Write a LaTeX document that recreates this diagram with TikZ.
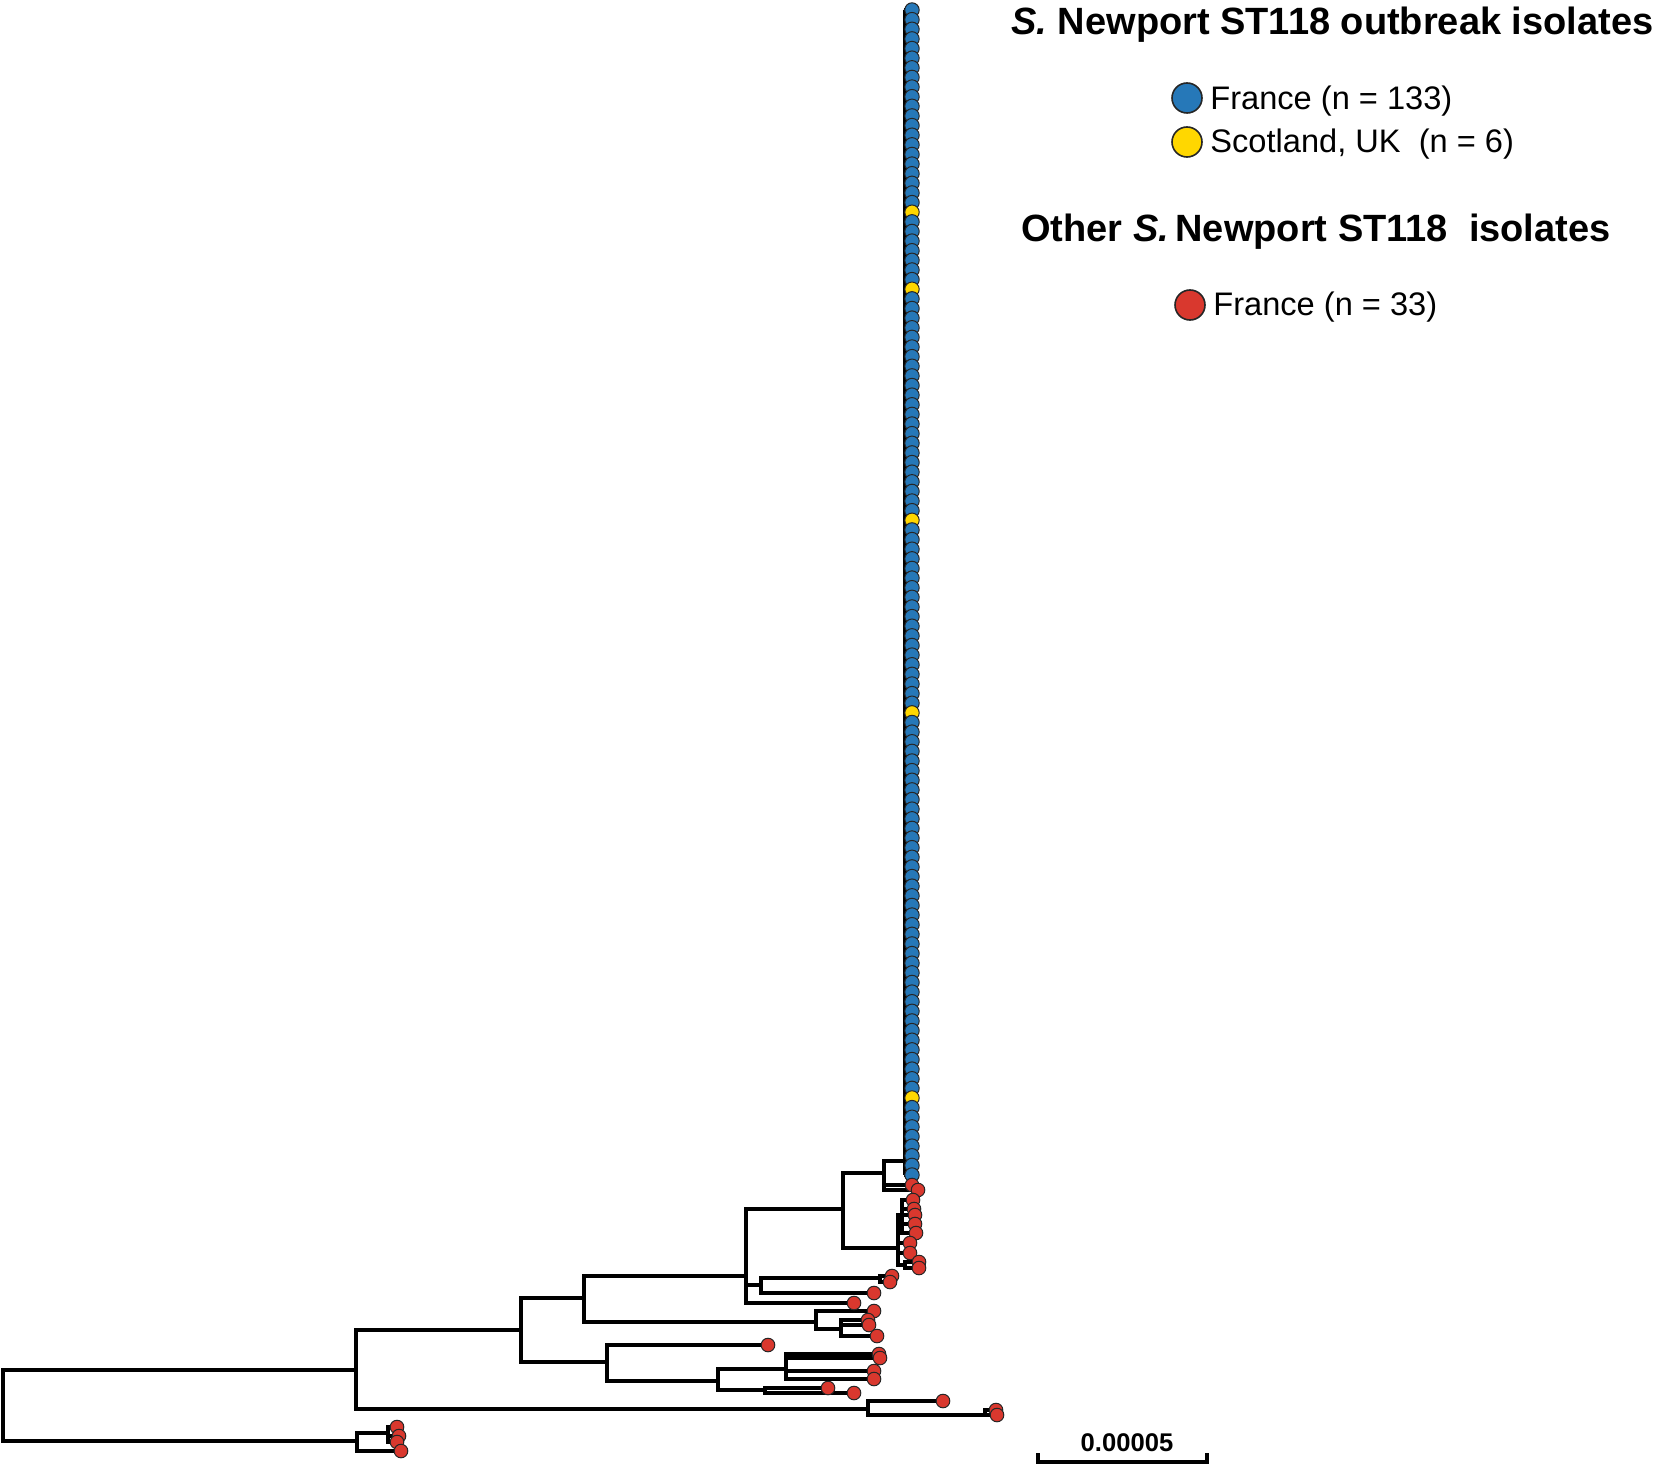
\documentclass[tikz,border=0pt]{standalone}
\usepackage{fontspec}
\setmainfont{Liberation Sans}
\usetikzlibrary{backgrounds}

\definecolor{franceblue}{RGB}{38,120,184}
\definecolor{scotyellow}{RGB}{255,215,0}
\definecolor{otherred}{RGB}{217,56,46}

\tikzset{
	branch/.style={line width=1.7pt},
	tip/.style={circle, draw=black!85, line width=0.5pt, inner sep=0pt, minimum size=6.8pt, fill=otherred},
	coldot/.style={tip, minimum size=7.2pt},
	legdot/.style={circle, draw=black!85, line width=0.8pt, inner sep=0pt, minimum size=15pt},
	legtitle/.style={anchor=base west, inner sep=0pt, font=\fontsize{19}{22}\selectfont\bfseries},
	legtext/.style={anchor=base west, inner sep=0pt, font=\fontsize{16.3}{19}\selectfont},
}

\begin{document}
\begin{tikzpicture}[x=0.5pt, y=-0.5pt]
		\useasboundingbox (0,0) rectangle (1654,1466);
		% inner nodes of the tree
		\coordinate (root) at (3,1405);
		\coordinate (nA) at (356,1370);
		\coordinate (nL) at (357,1441);
		\coordinate (nB) at (521,1330);
		\coordinate (nK) at (868,1409);
		\coordinate (nC) at (584,1298);
		\coordinate (nH) at (607,1362);
		\coordinate (nD) at (746,1276);
		\coordinate (nG) at (816,1322);
		\coordinate (nE) at (843,1209);
		\coordinate (nDb) at (761,1285);
		\coordinate (nDc) at (880,1278);
		\coordinate (nF) at (884,1173);
		\coordinate (nEb) at (898,1248);
		\coordinate (nEc) at (902,1215);
		\coordinate (nEd) at (905,1265);
		\coordinate (ncol) at (905,1161);
		\coordinate (nGb) at (841,1329);
		\coordinate (nHb) at (718,1381);
		\coordinate (nHc) at (786,1369);
		\coordinate (nHd) at (765,1390);
		\coordinate (nKb) at (985,1415);
		\coordinate (nLb) at (388,1433);
		% outbreak isolates
		\foreach \i in {0,...,121}{
			\pgfmathtruncatemacro\scot{(\i==21)||(\i==29)||(\i==53)||(\i==73)||(\i==113)}
			\ifnum\scot=1 \def\dotcol{scotyellow}\else\def\dotcol{franceblue}\fi
			\node[coldot, fill=\dotcol] (b\i) at (912,{10+9.628*\i}) {};
		}
		% other isolates
		\foreach \n/\x/\y in {1/912/1185, 2/918/1190, 3/913/1200, 4/914/1209, 5/915/1215,
			6/915/1224, 7/916/1233, 8/910/1243, 9/910/1253, 10/919/1262, 11/919/1268,
			12/892/1276, 13/890/1282, 14/874/1293, 15/854/1303, 16/874/1311, 17/868/1320,
			18/869/1325, 19/877/1336, 20/768/1345, 21/879/1354, 22/880/1358, 23/874/1371,
			24/874/1379, 25/828/1388, 26/854/1393, 27/943/1401, 28/996/1410, 29/997/1415,
			30/397/1427, 31/399/1436, 32/397/1442, 33/401/1451}
			\node[tip] (r\n) at (\x,\y) {};
		% branches
		\begin{scope}[on background layer]
			\foreach \p/\c in {root/nA, root/nL, nA/nB, nA/nK, nB/nC, nB/nH, nC/nD, nC/nG,
				nD/nE, nD/nDb, nD/r15, nE/nF, nE/nEb, nF/ncol, nF/r1, nF/r2,
				nEb/nEc, nEb/r8, nEb/r9, nEb/nEd, nEc/r3, nEc/r4, nEc/r5, nEc/r6, nEc/r7,
				nEd/r10, nEd/r11, nDb/nDc, nDb/r14, nDc/r12, nDc/r13,
				nG/r16, nG/nGb, nGb/r17, nGb/r18, nGb/r19,
				nH/r20, nH/nHb, nHb/nHc, nHb/nHd, nHc/r21, nHc/r22, nHc/r23, nHc/r24,
				nHd/r25, nHd/r26, nK/r27, nK/nKb, nKb/r28, nKb/r29,
				nL/nLb, nL/r33, nLb/r30, nLb/r31, nLb/r32}
				\draw[branch] (\p) |- (\c);
			\foreach \i in {0,...,121}
				\draw[branch] (ncol) |- (b\i);
		\end{scope}
		% legend
		\node[legtitle] (title1) at (1011,35) {\textit{S.} Newport ST118 outbreak isolates};
		\node[legdot, fill=franceblue] (kfr) at (1187,98) {};
		\node[legtext] (tfr) at (1210,110) {France (n = 133)};
		\node[legdot, fill=scotyellow] (ksc) at (1187,142) {};
		\node[legtext] (tsc) at (1210,153) {Scotland, UK\ \ (n = 6)};
		\node[legtitle] (title2) at (1021,242) {Other \textit{S.}\,Newport ST118\ \ isolates};
		\node[legdot, fill=otherred] (kot) at (1190,305) {};
		\node[legtext] (tot) at (1213,315) {France (n = 33)};
		% scale bar
		\coordinate (sbl) at (1038,1462);
		\coordinate (sbr) at (1207,1462);
		\draw[branch] (sbl) ++(0,-9) -- (sbl) -- (sbr) -- ++(0,-9);
		\node[anchor=base, inner sep=0pt, font=\fontsize{12.8}{15}\selectfont\bfseries] (sblabel) at (1127,1451) {0.00005};
\end{tikzpicture}
\end{document}
